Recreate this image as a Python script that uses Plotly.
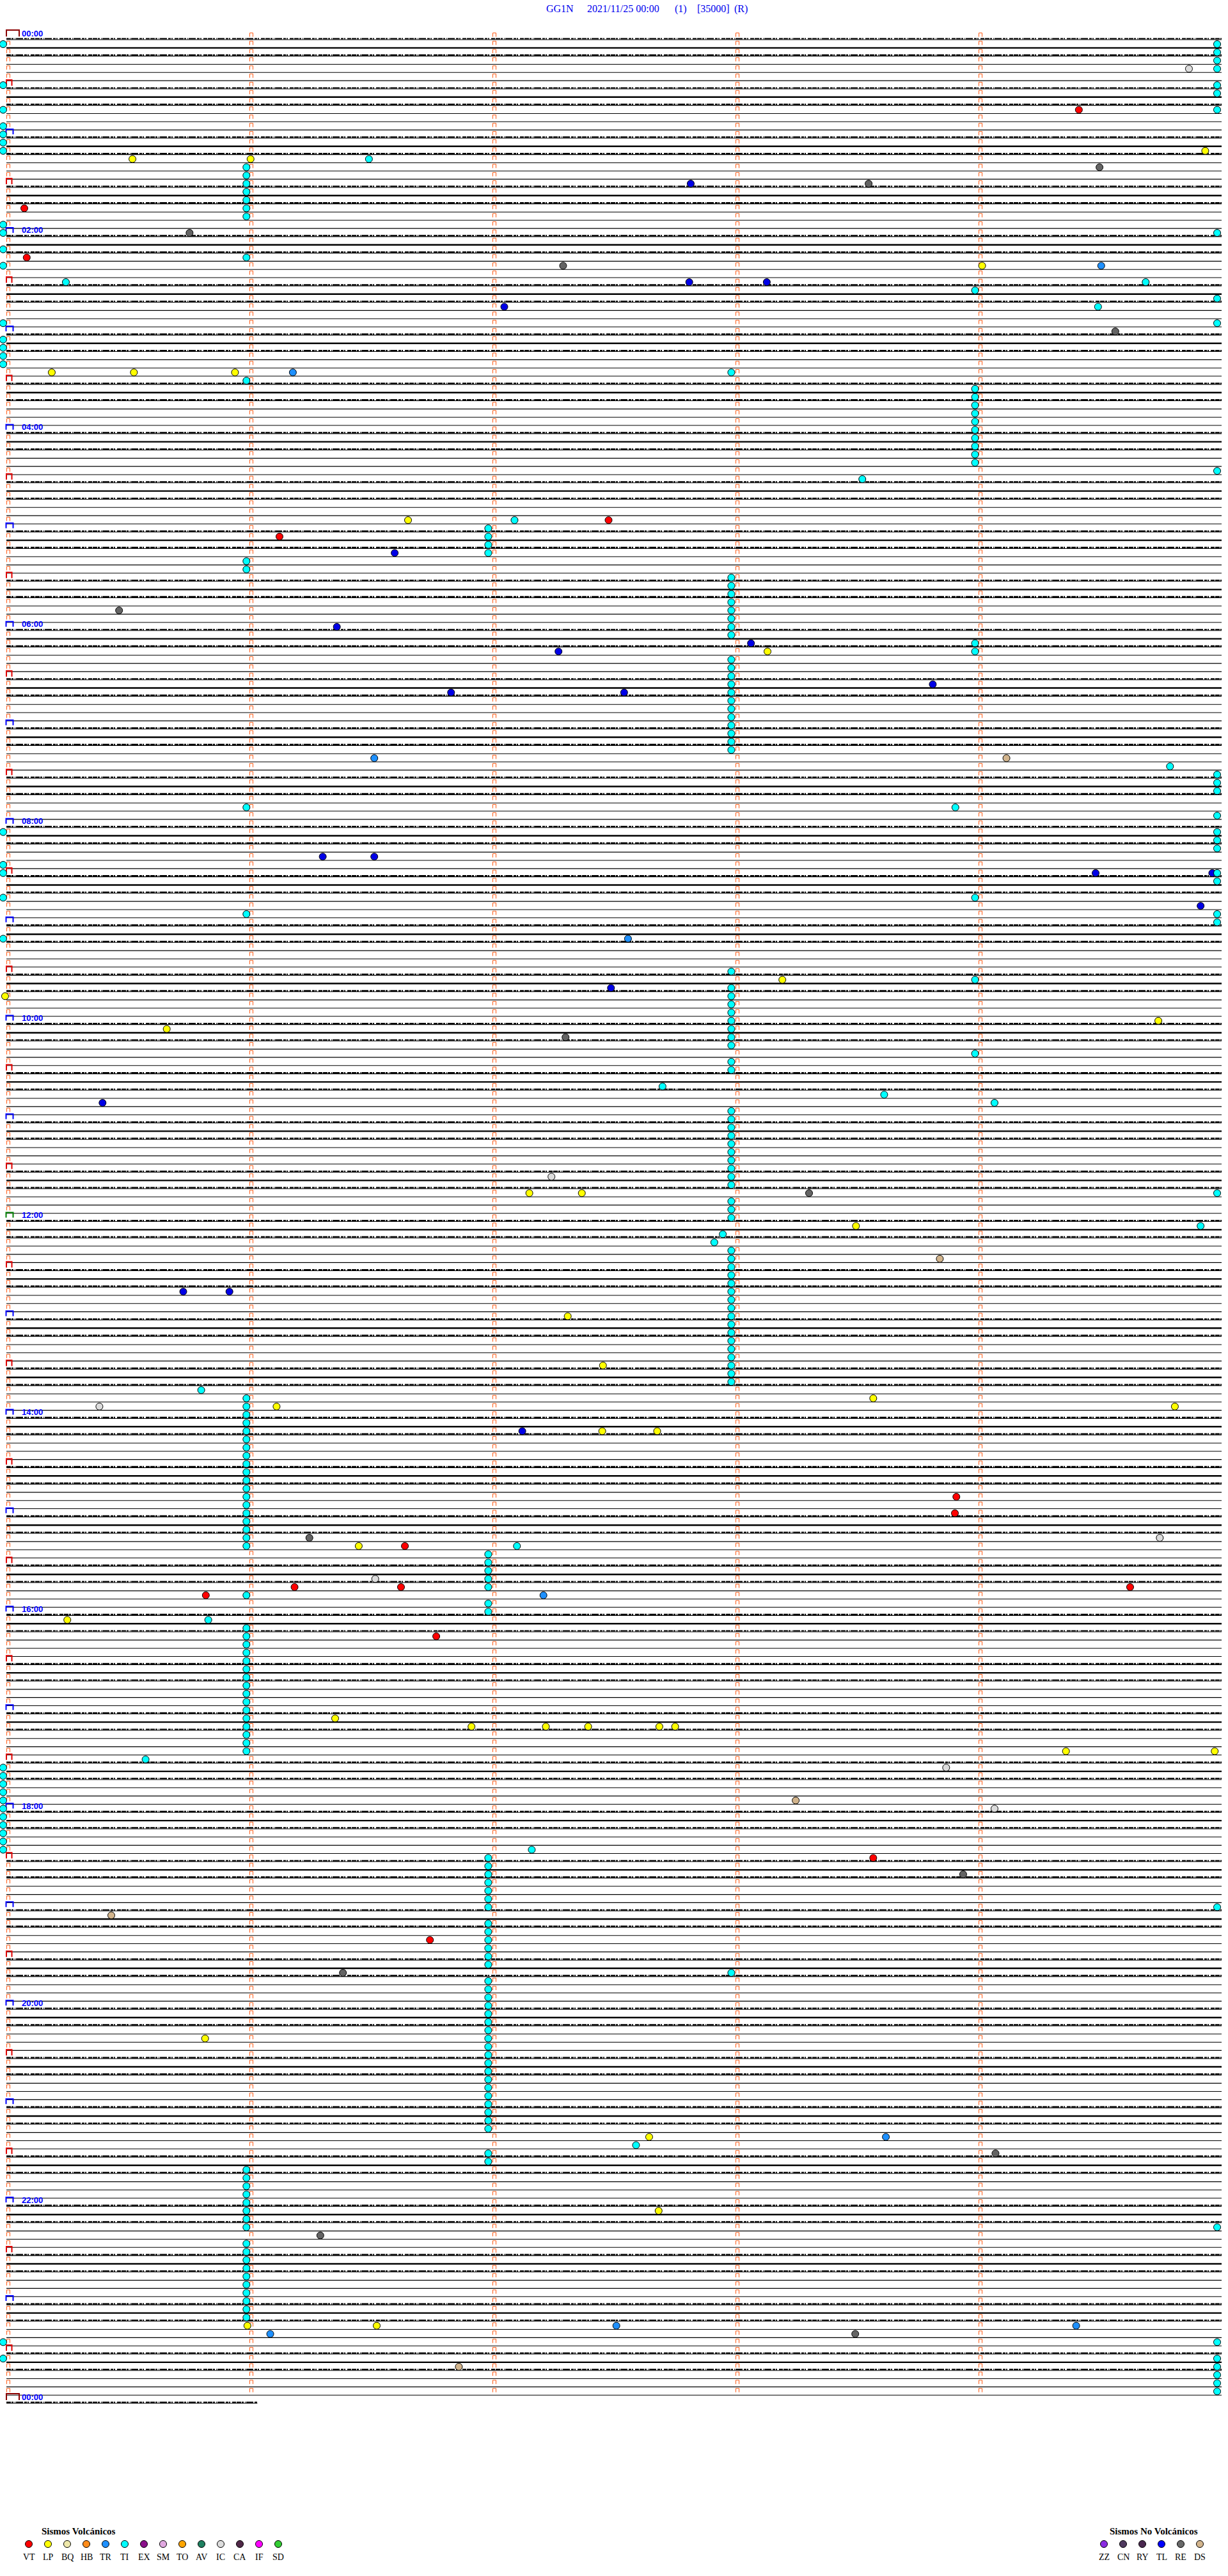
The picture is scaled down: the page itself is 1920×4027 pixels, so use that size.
import plotly.graph_objects as go

# ---------------- data ----------------
TITLE_PARTS = ["GG1N", "2021/11/25 00:00", "(1)", "[35000]", "(R)"]
N_ROWS = 289              # 5-minute rows from 00:00 to 24:00 (last row partial)
ROW_MINUTES = 5
LAST_ROW_END_MIN = 1.03   # data present in the last (partial) row
HOUR_LABELS = ["00:00", "02:00", "04:00", "06:00", "08:00", "10:00", "12:00",
               "14:00", "16:00", "18:00", "20:00", "22:00", "00:00"]
HOUR_LABEL_ROWS = [0, 24, 48, 72, 96, 120, 144, 168, 192, 216, 240, 264, 288]

# TI (cyan) events: stacked columns at minute boundaries plus isolated ones
TI_COL_MIN = [-0.016, 0.985, 1.98, 2.98, 3.983, 4.979]
ti_c0_rows = [0, 5, 8, 10, 11, 12, 13, 22, 23, 25, 27, 34, 36, 37, 38, 39, 96, 100, 101,
              104, 109, 210, 211, 212, 213, 214, 215, 216, 217, 218, 219, 220, 280, 282]
ti_c1_rows = [15, 16, 17, 18, 19, 20, 21, 26, 41, 63, 64, 93, 106, 165, 166, 167, 168, 169,
              170, 171, 172, 173, 174, 175, 176, 177, 178, 179, 180, 181, 182, 183, 189,
              193, 194, 195, 196, 197, 198, 199, 200, 201, 202, 203, 204, 205, 206, 207,
              208, 259, 260, 261, 262, 263, 264, 265, 266, 268, 269, 270, 271, 272, 273,
              274, 275, 276, 277]
ti_c2_rows = [59, 60, 61, 62, 184, 185, 186, 187, 188, 190, 191, 221, 222, 223, 224, 225,
              226, 227, 229, 230, 231, 232, 233, 234, 236, 237, 238, 239, 240, 241, 242,
              243, 244, 245, 246, 247, 248, 249, 250, 251, 252, 253, 254, 257, 258]
ti_c3_rows = [40, 65, 66, 67, 68, 69, 70, 71, 72, 75, 76, 77, 78, 79, 80, 81, 82, 83, 84,
              85, 86, 113, 115, 116, 117, 118, 119, 120, 121, 122, 124, 125, 130, 131, 132,
              133, 134, 135, 136, 137, 138, 139, 141, 142, 143, 147, 148, 149, 150, 151,
              152, 153, 154, 155, 156, 157, 158, 159, 160, 161, 162, 163, 235]
ti_c4_rows = [30, 42, 43, 44, 45, 46, 47, 48, 49, 50, 51, 73, 74, 104, 114, 123]
ti_c5_rows = [0, 1, 2, 3, 5, 6, 8, 23, 31, 34, 52, 89, 90, 91, 94, 96, 97, 98, 101, 102,
              106, 107, 140, 227, 266, 280, 282, 283, 284, 285, 286]
ti_other_rows = [14, 29, 29, 32, 53, 58, 88, 93, 127, 128, 129, 144, 145, 146, 164, 183,
                 192, 209, 220, 256]
ti_other_min = [1.489, 0.242, 4.685, 4.489, 3.519, 2.088, 4.785, 3.902, 2.697, 3.609,
                4.063, 4.911, 2.945, 2.91, 0.799, 2.098, 0.828, 0.57, 2.159, 2.588]

VT_ROWS = [8, 20, 26, 58, 60, 177, 179, 183, 188, 188, 188, 189, 194, 221, 231]
VT_MIN = [4.41, 0.071, 0.081, 2.475, 1.121, 3.906, 3.9, 1.637, 1.183, 1.621, 4.621,
          0.818, 1.766, 3.564, 1.74]

LP_ROWS = [13, 14, 14, 27, 40, 40, 40, 58, 74, 114, 116, 119, 120, 140, 140, 144, 155,
           161, 165, 166, 166, 169, 169, 183, 192, 204, 205, 205, 205, 205, 205, 208, 208,
           243, 255, 264, 278, 278]
LP_MIN = [4.93, 0.516, 1.002, 4.012, 0.184, 0.522, 0.938, 1.65, 3.129, 3.19, -0.008,
          4.737, 0.657, 2.149, 2.365, 3.493, 2.307, 2.452, 3.564, 1.109, 4.805, 2.449,
          2.675, 1.447, 0.248, 1.35, 1.911, 2.217, 2.391, 2.684, 2.749, 4.357, 4.969,
          0.815, 2.642, 2.681, 0.989, 1.521]

TR_ROWS = [27, 40, 87, 109, 189, 255, 278, 278, 279]
TR_MIN = [4.502, 1.176, 1.511, 2.555, 2.207, 3.616, 2.507, 4.399, 1.083]

TL_ROWS = [17, 29, 29, 32, 62, 71, 73, 74, 78, 79, 79, 99, 99, 101, 101, 105, 115, 129,
           152, 152, 169]
TL_MIN = [2.813, 2.807, 3.126, 2.046, 1.595, 1.357, 3.061, 2.269, 3.809, 1.827, 2.539,
          1.299, 1.511, 4.479, 4.959, 4.911, 2.485, 0.393, 0.725, 0.915, 2.12]

RE_ROWS = [15, 17, 23, 27, 35, 69, 121, 140, 182, 223, 235, 257, 267, 279]
RE_MIN = [4.495, 3.545, 0.751, 2.288, 4.56, 0.461, 2.298, 3.3, 1.244, 3.934, 1.382,
          4.067, 1.289, 3.49]

IC_ROWS = [3, 138, 166, 182, 187, 210, 215]
IC_MIN = [4.863, 2.24, 0.38, 4.743, 1.515, 3.864, 4.063]

DS_ROWS = [87, 148, 214, 228, 283]
DS_MIN = [4.112, 3.838, 3.245, 0.429, 1.859]

VOLC_CODES = ["VT", "LP", "BQ", "HB", "TR", "TI", "EX", "SM", "TO", "AV", "IC", "CA", "IF", "SD"]
VOLC_COLORS = ["#FF0000", "#FFFF00", "#EEE8AA", "#FF8C1A", "#1E90FF", "#00FFFF", "#8B108B",
               "#E0A8E0", "#FFA500", "#1F8060", "#DCDCDC", "#502848", "#FF00FF", "#32CD32"]
NONVOLC_CODES = ["ZZ", "CN", "RY", "TL", "RE", "DS"]
NONVOLC_COLORS = ["#8A2BE2", "#4F3A5F", "#4A2850", "#0000FF", "#696969", "#D2B48C"]

# ---------------- geometry (page pixels) ----------------
W, H = 1920, 4027
X0_PX, PX_PER_MIN = 11.0, 380.0
Y0_PX, ROW_PX = 62.0, 12.83


def mx(px):
    return (px - X0_PX) / PX_PER_MIN


def ky(py):
    return (py - Y0_PX) / ROW_PX


fig = go.Figure()


def add_rows(rows, width, dash="solid", dy_px=0.0):
    xs, ys = [], []
    for k in rows:
        x_end = LAST_ROW_END_MIN if k == N_ROWS - 1 else mx(1910)
        y = k + dy_px / ROW_PX
        xs += [mx(10), x_end, None]
        ys += [y, y, None]
    fig.add_trace(go.Scatter(x=xs, y=ys, mode="lines", hoverinfo="skip", showlegend=False,
                             line=dict(color="black", width=width, dash=dash)))


plain = [k for k in range(N_ROWS) if k % 6 in (3, 4, 5)]
thick = [k for k in range(N_ROWS) if k % 6 == 1]
noisy = [k for k in range(N_ROWS) if k % 6 in (0, 2)]
add_rows(plain, 1.1)
add_rows(thick, 2.4)
add_rows(noisy, 1.1)
add_rows(noisy, 2.2, dash="7px,1px,3px,2px,1px,1px,11px,2px,4px,1px,2px,3px,6px,1px", dy_px=-1.5)

# minute tick brackets
mk_x, mk_y = [], []
for k in range(N_ROWS - 1):
    for m in range(ROW_MINUTES):
        if m == 0 and k % 6 == 0:
            continue
        L = mx(X0_PX + PX_PER_MIN * m - 0.5)
        R = mx(X0_PX + PX_PER_MIN * m + 4.5)
        top, bot = k - 10.5 / ROW_PX, k - 4.5 / ROW_PX
        mk_x += [L, L, R, R, None]
        mk_y += [bot, top, top, bot, None]
fig.add_trace(go.Scatter(x=mk_x, y=mk_y, mode="lines", hoverinfo="skip", showlegend=False,
                         line=dict(color="#FF5A14", width=1)))

# hour / half hour brackets
groups = {"#8B0000": ([], []), "#0000FF": ([], []), "#008000": ([], []), "#E00000": ([], [])}
for k in range(0, N_ROWS, 6):
    if k % 12 == 6:
        col, L, R, t, b = "#E00000", 10, 18.5, 14, 5
    elif k in (0, N_ROWS - 1):
        col, L, R, t, b = "#8B0000", 10, 30, 15, 5
    elif k == 144:
        col, L, R, t, b = "#008000", 9.5, 20.5, 14, 6
    else:
        col, L, R, t, b = "#0000FF", 9.5, 20.5, 14, 6
    gx, gy = groups[col]
    gx += [mx(L), mx(L), mx(R), mx(R), None]
    gy += [k - b / ROW_PX, k - t / ROW_PX, k - t / ROW_PX, k - b / ROW_PX, None]
for col, (gx, gy) in groups.items():
    fig.add_trace(go.Scatter(x=gx, y=gy, mode="lines", hoverinfo="skip", showlegend=False,
                             line=dict(color=col, width=2)))

annotations = []
for lab, k in zip(HOUR_LABELS, HOUR_LABEL_ROWS):
    annotations.append(dict(x=mx(32), y=k - 10 / ROW_PX, text=lab, showarrow=False,
                            xanchor="left", yanchor="middle",
                            font=dict(family="Liberation Sans, Arial", size=13,
                                      color="#0000FF", weight="bold")))

# events
ti_rows, ti_min = [], []
for cm, rows in zip(TI_COL_MIN, [ti_c0_rows, ti_c1_rows, ti_c2_rows, ti_c3_rows,
                                 ti_c4_rows, ti_c5_rows]):
    ti_rows += rows
    ti_min += [cm] * len(rows)
ti_rows += ti_other_rows
ti_min += ti_other_min

EV_DY = 7.0 / ROW_PX


def add_events(rows, mins, color):
    fig.add_trace(go.Scatter(x=mins, y=[r + EV_DY for r in rows], mode="markers",
                             hoverinfo="skip", showlegend=False, cliponaxis=False,
                             marker=dict(size=11, color=color,
                                         line=dict(color="black", width=1))))


add_events(TL_ROWS, TL_MIN, "#0000E6")
add_events(ti_rows, ti_min, "#00FFFF")
add_events(VT_ROWS, VT_MIN, "#FF0000")
add_events(LP_ROWS, LP_MIN, "#FFFF00")
add_events(TR_ROWS, TR_MIN, "#1E90FF")
add_events(RE_ROWS, RE_MIN, "#646464")
add_events(IC_ROWS, IC_MIN, "#DCDCDC")
add_events(DS_ROWS, DS_MIN, "#D2B48C")

# title
TITLE_X = [852, 916, 1053, 1088, 1146]
for txt, xp in zip(TITLE_PARTS, TITLE_X):
    annotations.append(dict(x=mx(xp), y=ky(13.5), text=txt, showarrow=False,
                            xanchor="left", yanchor="middle",
                            font=dict(family="Liberation Serif, Times New Roman", size=16,
                                      color="#0000EE")))

# legends
serif = "Liberation Serif, Times New Roman"
vx = [45 + 30 * i for i in range(len(VOLC_CODES))]
nx = [1726 + 30 * i for i in range(len(NONVOLC_CODES))]
fig.add_trace(go.Scatter(x=[mx(v) for v in vx] + [mx(v) for v in nx],
                         y=[ky(3977)] * (len(vx) + len(nx)), mode="markers",
                         hoverinfo="skip", showlegend=False, cliponaxis=False,
                         marker=dict(size=11, color=VOLC_COLORS + NONVOLC_COLORS,
                                     line=dict(color="black", width=1))))
for code, xp in list(zip(VOLC_CODES, vx)) + list(zip(NONVOLC_CODES, nx)):
    annotations.append(dict(x=mx(xp), y=ky(3997), text=code, showarrow=False,
                            xanchor="center", yanchor="middle",
                            font=dict(family=serif, size=14, color="black")))
annotations.append(dict(x=mx(63), y=ky(3957), text="Sismos Volcánicos", showarrow=False,
                        xanchor="left", yanchor="middle",
                        font=dict(family=serif, size=15, color="black", weight="bold")))
annotations.append(dict(x=mx(1733), y=ky(3957), text="Sismos No Volcánicos", showarrow=False,
                        xanchor="left", yanchor="middle",
                        font=dict(family=serif, size=15, color="black", weight="bold")))

fig.update_layout(
    width=W, height=H, margin=dict(l=0, r=0, t=0, b=0),
    paper_bgcolor="white", plot_bgcolor="white", showlegend=False,
    annotations=annotations, hovermode=False,
    xaxis=dict(range=[mx(0), mx(W)], visible=False, fixedrange=True),
    yaxis=dict(range=[ky(H), ky(0)], visible=False, fixedrange=True),
)

fig.write_html("out.html", config={"displayModeBar": False, "staticPlot": True},
               post_script="document.body.style.margin='0';document.body.style.overflow='hidden';")
